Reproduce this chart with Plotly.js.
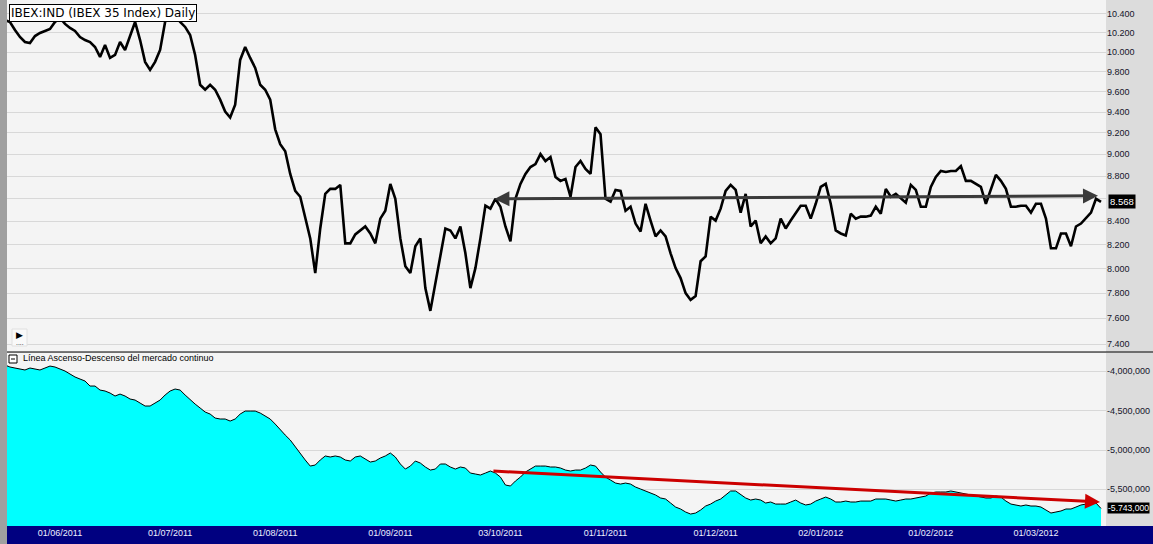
<!DOCTYPE html>
<html><head><meta charset="utf-8">
<script src="https://cdn.plot.ly/plotly-3.0.1.min.js"></script>
<style>html,body{margin:0;padding:0;background:#dcdcdc;} #chart{width:1153px;height:544px;}</style>
</head><body><div id="chart"></div>
<script>
// ---- data ----
const startDate = '2011-05-17';
const marketHolidays = ['2011-12-26'];
const ibexClose = [
10336,10315,10230,10156,10104,10093,10166,10198,10219,10240,
10315,10357,10294,10251,10219,10156,10124,10104,10052,9950,
10073,9939,9970,10104,10021,10177,10315,10124,9899,9818,
9899,10021,10315,10443,10389,10315,10262,10177,9970,9668,
9619,9668,9619,9521,9405,9347,9472,9919,10052,9939,
9838,9668,9619,9521,9234,9093,9028,8819,8666,8614,
8439,8252,7962,8337,8640,8684,8684,8720,8210,8210,
8286,8320,8354,8294,8210,8422,8491,8729,8596,8252,
8019,7962,8185,8252,7840,7658,7880,8126,8337,8320,
8252,8354,8126,7840,8003,8252,8535,8509,8596,8526,
8354,8227,8596,8729,8819,8882,8909,9001,8937,8974,
8792,8756,8774,8614,8882,8937,8864,8819,9253,9187,
8596,8570,8675,8666,8491,8526,8379,8311,8552,8405,
8269,8320,8269,8126,8003,7921,7800,7745,7776,8060,
8101,8439,8405,8509,8666,8720,8675,8474,8640,8354,
8405,8210,8269,8210,8252,8422,8337,8405,8465,8535,
8535,8422,8552,8702,8729,8552,8320,8294,8277,8465,
8422,8439,8439,8448,8526,8465,8684,8614,8640,8596,
8561,8720,8675,8526,8526,8702,8792,8846,8837,8846,
8846,8891,8756,8756,8729,8702,8552,8675,8810,8756,
8684,8526,8526,8535,8535,8474,8552,8552,8422,8168,
8168,8294,8294,8185,8354,8379,8422,8474,8596,8568];
// Advance-decline line, in thousands
const adLineThousands = [
-3920,-3945,-3958,-3970,-3983,-3958,-3970,-3983,-3958,-3933,
-3945,-3970,-3996,-4034,-4072,-4098,-4123,-4187,-4187,-4238,
-4250,-4276,-4314,-4289,-4314,-4352,-4365,-4403,-4441,-4441,
-4403,-4365,-4301,-4250,-4225,-4238,-4301,-4365,-4416,-4466,
-4517,-4543,-4594,-4606,-4606,-4632,-4606,-4543,-4505,-4505,
-4505,-4530,-4568,-4606,-4670,-4746,-4810,-4873,-4962,-5038,
-5127,-5204,-5191,-5127,-5076,-5089,-5076,-5089,-5127,-5140,
-5089,-5076,-5115,-5153,-5140,-5102,-5076,-5038,-5089,-5178,
-5242,-5204,-5140,-5166,-5216,-5255,-5242,-5178,-5178,-5216,
-5242,-5216,-5229,-5293,-5305,-5318,-5293,-5267,-5293,-5344,
-5445,-5458,-5394,-5344,-5280,-5242,-5204,-5204,-5204,-5216,
-5216,-5229,-5255,-5267,-5255,-5255,-5229,-5191,-5204,-5280,
-5344,-5382,-5420,-5433,-5420,-5433,-5471,-5496,-5521,-5547,
-5572,-5610,-5623,-5674,-5725,-5750,-5788,-5814,-5801,-5763,
-5712,-5687,-5649,-5623,-5572,-5521,-5521,-5560,-5610,-5636,
-5623,-5636,-5674,-5661,-5687,-5687,-5687,-5661,-5636,-5674,
-5699,-5687,-5649,-5623,-5598,-5623,-5661,-5661,-5649,-5661,
-5661,-5649,-5649,-5649,-5623,-5623,-5623,-5636,-5649,-5636,
-5623,-5623,-5610,-5598,-5585,-5547,-5534,-5534,-5534,-5521,
-5534,-5547,-5560,-5572,-5585,-5598,-5610,-5610,-5585,-5598,
-5649,-5687,-5699,-5712,-5699,-5712,-5712,-5725,-5763,-5801,
-5788,-5775,-5750,-5750,-5725,-5699,-5687,-5687,-5674,-5743];
const monthTicks = ['01/06/2011','01/07/2011','01/08/2011','01/09/2011','03/10/2011','01/11/2011','01/12/2011','02/01/2012','01/02/2012','01/03/2012'];
const ibexTicks = [7400,7600,7800,8000,8200,8400,8600,8800,9000,9200,9400,9600,9800,10000,10200,10400];
const hiddenIbexTick = 8600; // covered by the last-value label in the original
const adTicks = [-5500000,-5000000,-4500000,-4000000];
const lastIbex = 8568, lastIbexLabel = '8.568';
const lastAd = -5743000, lastAdLabel = '-5.743,000';
// hand-drawn trend lines (trading-day index, value)
const ibexTrend = {x0: 97.5, y0: 8595, x1: 218.4, y1: 8622};
const adTrend = {x0: 97.3, y0: -5267000, x1: 218.8, y1: -5661000};

// ---- build ----
function tradingDays(start, n, holidays){
  const out=[]; const d=new Date(start+'T00:00:00Z');
  while(out.length<n){
    const wd=d.getUTCDay(); const iso=d.toISOString().slice(0,10);
    if(wd!==0 && wd!==6 && !holidays.includes(iso)) out.push(iso.slice(8,10)+'/'+iso.slice(5,7)+'/'+iso.slice(0,4));
    d.setUTCDate(d.getUTCDate()+1);
  }
  return out;
}
const dates = tradingDays(startDate, ibexClose.length, marketHolidays);
const adLine = adLineThousands.map(v=>v*1000);

const W=1153, H=544, ML=7, MR=47, MT=0, MB=18;
const PW=W-ML-MR, PH=H-MT-MB;
const px = x => (x-ML)/PW;
const py = y => (H-MB-y)/PH;
const topDomain=[py(352),1], botDomain=[0,py(353)];
const ibexRange=[Math.log10(7340), Math.log10(10551)];
const adRange=[-5966000,-3767000];
const FONT='Liberation Sans, Arial, sans-serif';
const tickFont={family:FONT, size:9, color:'#14142a'};

const traces=[
  {x:dates, y:ibexClose, type:'scatter', mode:'lines', xaxis:'x', yaxis:'y',
   line:{color:'#000', width:2.6}, hoverinfo:'skip'},
  {x:dates, y:adLine.map(()=>-6500000), type:'scatter', mode:'lines', xaxis:'x', yaxis:'y2',
   line:{width:0, color:'rgba(0,0,0,0)'}, hoverinfo:'skip'},
  {x:dates, y:adLine, type:'scatter', mode:'lines', xaxis:'x', yaxis:'y2', fill:'tonexty',
   fillcolor:'#00ffff', line:{color:'#000', width:1}, hoverinfo:'skip'}
];

const layout={
  width:W, height:H, margin:{l:ML,r:MR,t:MT,b:MB,pad:0},
  paper_bgcolor:'#dcdcdc', plot_bgcolor:'#f4f4f4', showlegend:false,
  font:{family:FONT},
  xaxis:{type:'category', range:[0.41,220.0], anchor:'y2', showgrid:false, zeroline:false,
    showline:false, ticks:'', tickvals:monthTicks, ticktext:monthTicks, tickangle:0,
    tickfont:{family:FONT, size:9, color:'#eef0ff'}},
  yaxis:{type:'log', domain:topDomain, range:ibexRange, side:'right', anchor:'x',
    tickvals:ibexTicks, ticktext:ibexTicks.map(v=>v===hiddenIbexTick?'':(v/1000).toFixed(3)),
    showgrid:true, gridcolor:'#d8d8d8', gridwidth:1, zeroline:false, showline:false, ticks:'',
    tickfont:tickFont},
  yaxis2:{domain:botDomain, range:adRange, side:'right', anchor:'x',
    tickvals:adTicks, ticktext:adTicks.map(v=>v.toLocaleString('en-US')),
    showgrid:true, gridcolor:'#d8d8d8', gridwidth:1, zeroline:false, showline:false, ticks:'',
    tickfont:tickFont},
  shapes:[
    {type:'rect', xref:'paper', yref:'paper', x0:px(0), x1:0, y0:py(H), y1:1, fillcolor:'#a0a0a0', line:{width:0}, layer:'below'},
    {type:'rect', xref:'paper', yref:'paper', x0:0, x1:px(W), y0:py(H), y1:0, fillcolor:'#000080', line:{width:0}, layer:'below'},
    {type:'line', xref:'paper', yref:'paper', x0:0, x1:px(W), y0:py(352), y1:py(352), line:{color:'#000', width:1.2}},
    {type:'rect', xref:'paper', yref:'paper', x0:px(9), x1:px(17), y0:py(363), y1:py(355), fillcolor:'#ffffff', line:{color:'#000', width:1}},
    {type:'line', xref:'paper', yref:'paper', x0:px(11), x1:px(15), y0:py(359), y1:py(359), line:{color:'#000', width:1}},
    {type:'rect', xref:'paper', yref:'paper', x0:px(12), x1:px(27), y0:py(346), y1:py(329), fillcolor:'#f9f9f9', line:{color:'#e0e0e0', width:1}}
  ],
  annotations:[
    {xref:'paper', yref:'paper', x:px(9), y:py(4), xanchor:'left', yanchor:'top', showarrow:false,
     text:'IBEX:IND (IBEX 35 Index) Daily', bgcolor:'#ffffff', bordercolor:'#000', borderwidth:1, borderpad:1,
     font:{family:'DejaVu Sans, Verdana, sans-serif', size:12, color:'#000'}},
    {xref:'paper', yref:'paper', x:px(19.5), y:py(335), xanchor:'center', yanchor:'middle', showarrow:false,
     text:'▶', font:{family:'DejaVu Sans', size:9, color:'#000'}},
    {xref:'paper', yref:'paper', x:px(19.5), y:py(342), xanchor:'center', yanchor:'middle', showarrow:false,
     text:'....', font:{family:'DejaVu Sans', size:6, color:'#000'}},
    {xref:'paper', yref:'paper', x:px(21), y:py(358), xanchor:'left', yanchor:'middle', showarrow:false,
     text:'Línea Ascenso-Descenso del mercado continuo', font:{family:FONT, size:9, color:'#000'}},
    {xref:'paper', yref:'y', x:1, y:Math.log10(lastIbex), xanchor:'left', yanchor:'middle', xshift:2, showarrow:false,
     text:lastIbexLabel, bgcolor:'#000', borderpad:1, font:{family:FONT, size:9.5, color:'#fff'}},
    {xref:'paper', yref:'y2', x:1, y:lastAd, xanchor:'left', yanchor:'middle', xshift:1, showarrow:false,
     text:lastAdLabel, bgcolor:'#000', borderpad:0, font:{family:FONT, size:8.6, color:'#fff'}},
    {xref:'x', yref:'y', axref:'x', ayref:'y', x:ibexTrend.x1, y:Math.log10(ibexTrend.y1),
     ax:ibexTrend.x0, ay:Math.log10(ibexTrend.y0), text:'', showarrow:true, arrowhead:2, startarrowhead:2,
     arrowside:'end+start', arrowsize:1, startarrowsize:1, arrowwidth:3, arrowcolor:'#3a3a3a'},
    {xref:'x', yref:'y2', axref:'x', ayref:'y2', x:adTrend.x1, y:adTrend.y1,
     ax:adTrend.x0, ay:adTrend.y0, text:'', showarrow:true, arrowhead:2, arrowsize:1, arrowwidth:3, arrowcolor:'#cc0000'}
  ]
};
Plotly.newPlot('chart', traces, layout, {displayModeBar:false, staticPlot:true});
</script></body></html>
